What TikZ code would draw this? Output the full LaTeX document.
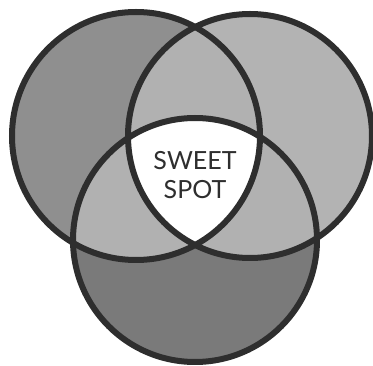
\documentclass[tikz,border=0pt]{standalone}
\usepackage{fontspec}
\setmainfont{Lato}
\usepackage{xcolor}
\definecolor{edge}{HTML}{2E2E2E}
\definecolor{leftgray}{HTML}{8F8F8F}
\definecolor{rightgray}{HTML}{B3B3B3}
\definecolor{bottomgray}{HTML}{7A7A7A}
\definecolor{pairgray}{HTML}{B1B1B1}

\begin{document}
\begin{tikzpicture}[x=1pt, y=-1pt,
    ring/.style={draw=edge, line width=6pt},
    spot/.style={align=center, font=\fontsize{25}{29}\selectfont, text=edge, inner sep=0pt}
  ]
    \useasboundingbox (0,0) rectangle (373,366);

    \coordinate (left) at (136,136);
    \coordinate (right) at (250,136);
    \coordinate (bottom) at (195,240);

    % single regions
    \fill[leftgray] (left) circle (124);
    \fill[rightgray] (right) circle (122);
    \fill[bottomgray] (bottom) circle (122);

    % pairwise overlaps
    \begin{scope}
      \clip (left) circle (124);
      \fill[pairgray] (right) circle (122);
      \fill[pairgray] (bottom) circle (122);
    \end{scope}
    \begin{scope}
      \clip (right) circle (122);
      \fill[pairgray] (bottom) circle (122);
    \end{scope}

    % the centre
    \begin{scope}
      \clip (left) circle (124);
      \clip (right) circle (122);
      \fill[white] (bottom) circle (122);
    \end{scope}

    \draw[ring] (left) circle (124);
    \draw[ring] (right) circle (122);
    \draw[ring] (bottom) circle (122);

    \node[spot] (sweet) at (195,175) {SWEET\\SPOT};

  \end{tikzpicture}
\end{document}
